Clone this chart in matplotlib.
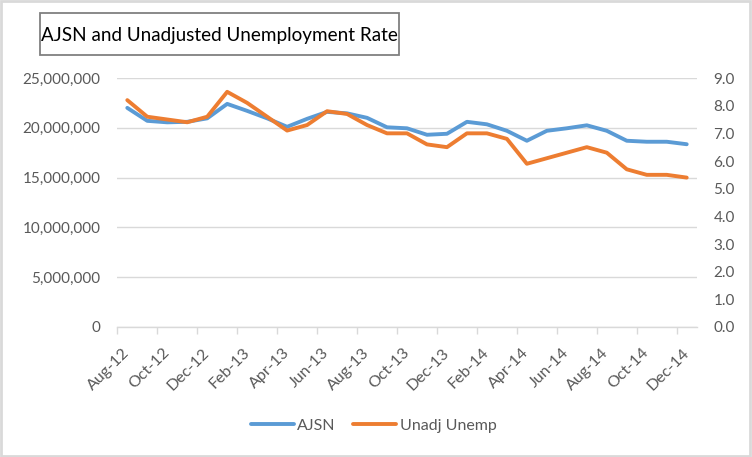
import numpy as np
import matplotlib
matplotlib.use("Agg")
import matplotlib.pyplot as plt
from matplotlib.ticker import FuncFormatter, FixedLocator
from matplotlib.patches import Rectangle

plt.rcParams['font.family'] = ['Lato', 'DejaVu Sans']

# data
months = ['Aug-12', 'Sep-12', 'Oct-12', 'Nov-12', 'Dec-12', 'Jan-13', 'Feb-13', 'Mar-13',
          'Apr-13', 'May-13', 'Jun-13', 'Jul-13', 'Aug-13', 'Sep-13', 'Oct-13', 'Nov-13',
          'Dec-13', 'Jan-14', 'Feb-14', 'Mar-14', 'Apr-14', 'May-14', 'Jun-14', 'Jul-14',
          'Aug-14', 'Sep-14', 'Oct-14', 'Nov-14', 'Dec-14']
ajsn = [22.0, 20.7, 20.55, 20.6, 20.95, 22.4, 21.7, 20.95,
        20.1, 20.9, 21.6, 21.45, 21.0, 20.05, 19.95, 19.3,
        19.4, 20.6, 20.35, 19.7, 18.7, 19.7, 19.95, 20.25,
        19.7, 18.7, 18.6, 18.6, 18.35]  # millions
unadj = [8.2, 7.6, 7.5, 7.4, 7.6, 8.5, 8.1, 7.6,
         7.1, 7.3, 7.8, 7.7, 7.3, 7.0, 7.0, 6.6,
         6.5, 7.0, 7.0, 6.8, 5.9, 6.1, 6.3, 6.5,
         6.3, 5.7, 5.5, 5.5, 5.4]

blue = '#5B9BD5'
orange = '#ED7D31'
grey_txt = '#595959'
grid_col = '#D9D9D9'

fig = plt.figure(figsize=(7.52, 4.57), dpi=100)
ax = fig.add_axes([117.3 / 752, 1 - 327 / 457, (696.7 - 117.3) / 752, (327 - 78) / 457])
ax2 = ax.twinx()

x = np.arange(len(months))
ajsn_vals = np.array(ajsn) * 1e6
l1, = ax.plot(x, ajsn_vals, color=blue, lw=2.8, solid_capstyle='round', zorder=3)
l2, = ax2.plot(x, unadj, color=orange, lw=2.8, solid_capstyle='round', zorder=3)

ax.set_xlim(-0.5, len(months) - 0.5)
ax.set_ylim(0, 25e6)
ax2.set_ylim(0, 9)
ax.set_yticks(np.arange(0, 25e6 + 1, 5e6))
ax2.set_yticks(np.arange(0, 9.01, 1.0))
ax.yaxis.set_major_formatter(FuncFormatter(lambda v, p: f'{int(v):,}'))
ax2.yaxis.set_major_formatter(FuncFormatter(lambda v, p: f'{v:.1f}'))

ax.grid(axis='y', color=grid_col, lw=1, zorder=0)
ax.set_axisbelow(True)

for a in (ax, ax2):
    for s in a.spines.values():
        s.set_visible(False)
ax.spines['bottom'].set_visible(True)
ax.spines['bottom'].set_color(grid_col)
ax.spines['bottom'].set_linewidth(1)

ax.tick_params(axis='y', length=0, pad=12, labelsize=11, labelcolor=grey_txt)
ax2.tick_params(axis='y', length=0, pad=12, labelsize=11, labelcolor=grey_txt)

# labels every second month, tick marks at category boundaries
ax.xaxis.set_major_locator(FixedLocator(x[::2]))
ax.set_xticklabels(months[::2])
ax.xaxis.set_minor_locator(FixedLocator(x[::2] - 0.5))
ax.tick_params(axis='x', which='major', length=0, pad=17, labelsize=11.5, labelcolor=grey_txt)
ax.tick_params(axis='x', which='minor', length=5, width=1, color=grid_col)
for lab in ax.get_xticklabels():
    lab.set_rotation(45)
    lab.set_rotation_mode('anchor')
    lab.set_ha('right')
    lab.set_va('center')

fig.legend([l1, l2], ['AJSN', 'Unadj Unemp'], loc='center', bbox_to_anchor=(0.497, 1 - 425.7 / 457),
           ncol=2, frameon=False, fontsize=11.5, handlelength=2.7, columnspacing=1.1,
           handletextpad=0.2, labelcolor=grey_txt)

# title in a box
fig.text((40 + 399) / 2 / 752, 1 - 35 / 457, 'AJSN and Unadjusted Unemployment Rate',
         fontsize=13.6, color='black', ha='center', va='center')
fig.patches.append(Rectangle((40 / 752, 1 - 55 / 457), (399 - 40) / 752, (55 - 13.3) / 457,
                             transform=fig.transFigure, fill=False, edgecolor='#808080', lw=1.3))
# outer chart border
fig.patches.append(Rectangle((0.001, 0.002), 0.997, 0.996, transform=fig.transFigure,
                             fill=False, edgecolor='#D9D9D9', lw=2))

fig.savefig('out.png', dpi=100)
